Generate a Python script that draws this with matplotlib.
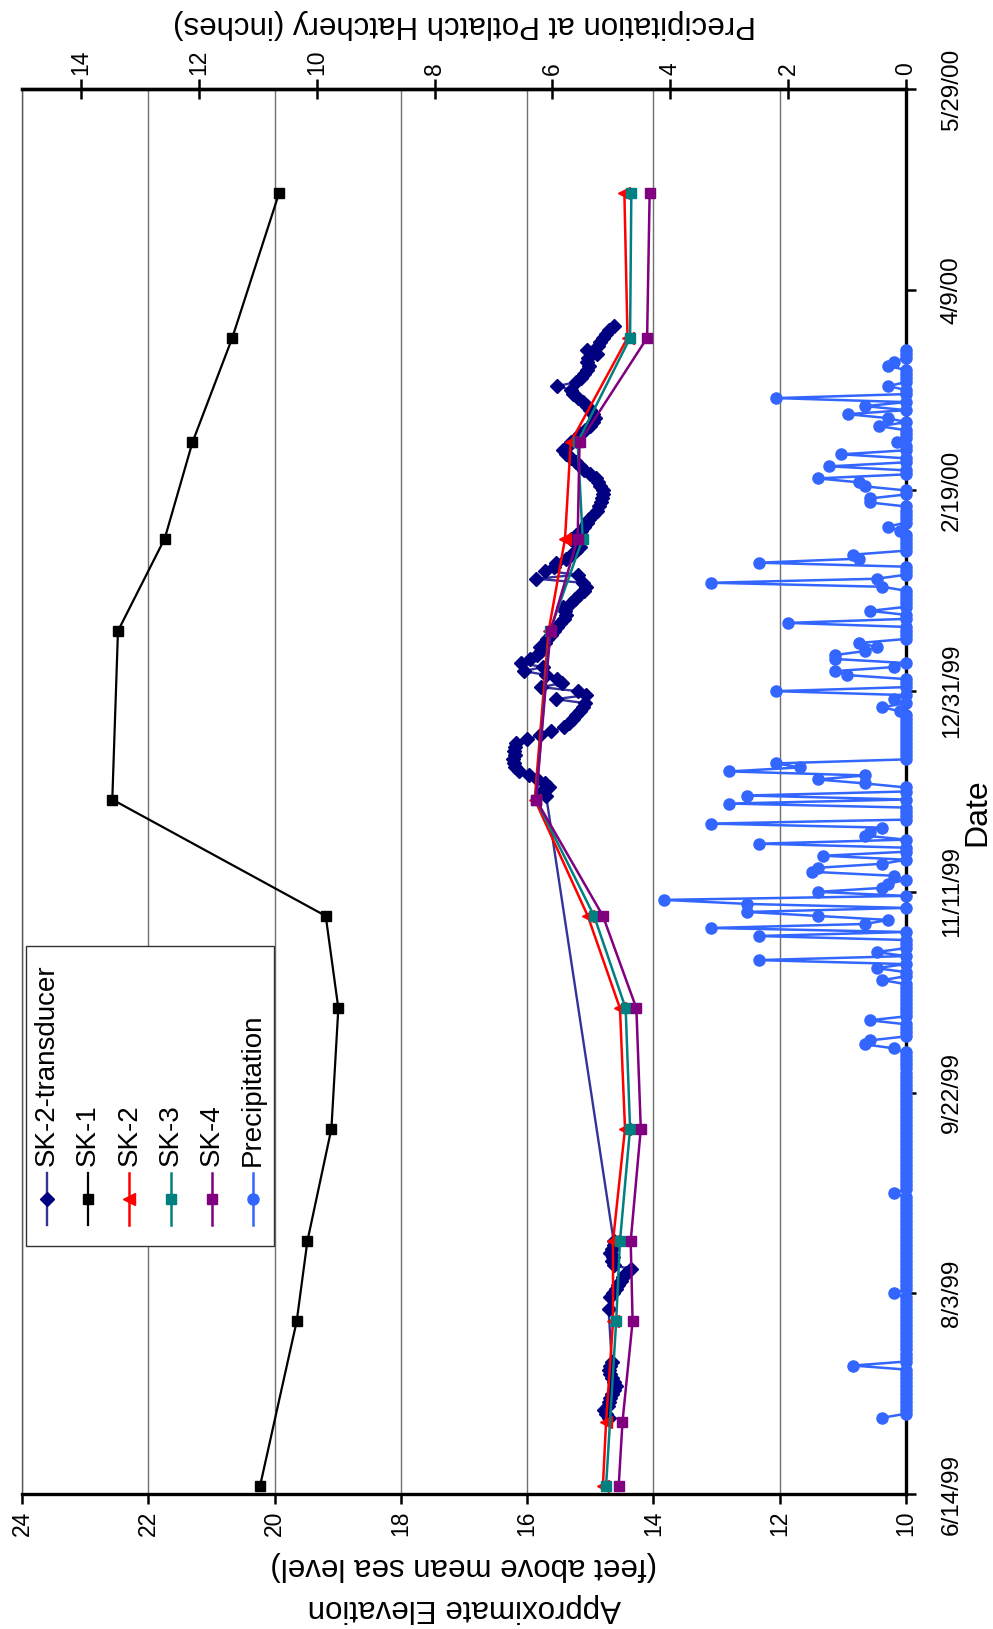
import numpy as np
import pandas as pd
import matplotlib
matplotlib.use('Agg')
import matplotlib.pyplot as plt
from matplotlib.lines import Line2D
from matplotlib.patches import Rectangle

plt.rcParams['font.family'] = ['Liberation Sans', 'DejaVu Sans']
narrow = ['Liberation Sans Narrow', 'Liberation Sans', 'DejaVu Sans']

# ---- well soundings -------------------------------------------------------
well_dates = ['1999-06-16', '1999-07-27', '1999-08-16', '1999-09-13', '1999-10-13',
              '1999-11-05', '1999-12-04', '2000-01-15', '2000-02-07', '2000-03-02',
              '2000-03-28', '2000-05-03']
# SK-2 and SK-4 also have a reading on 7/2/99
well_dates_jul = ['1999-06-16', '1999-07-02', '1999-07-27', '1999-08-16', '1999-09-13',
                  '1999-10-13', '1999-11-05', '1999-12-04', '2000-01-15', '2000-02-07',
                  '2000-03-02', '2000-03-28', '2000-05-03']

sk1 = [20.23, 19.65, 19.48, 19.10, 18.99, 19.19, 22.57, 22.48, 21.74, 21.30, 20.67, 19.93]
sk2 = [14.80, 14.75, 14.64, 14.64, 14.45, 14.53, 15.04, 15.88, 15.66, 15.40, 15.31, 14.41, 14.46]
sk3 = [14.75, 14.59, 14.53, 14.37, 14.44, 14.94, 15.86, 15.64, 15.12, 15.20, 14.37, 14.35]
sk4 = [14.55, 14.49, 14.33, 14.36, 14.20, 14.27, 14.80, 15.86, 15.63, 15.20, 15.17, 14.10, 14.06]

# ---- SK-2 pressure transducer, daily readings in separate logging runs -------
trans_run1_start = '1999-07-03'
trans_run1 = [14.70, 14.75, 14.78, 14.72, 14.70, 14.68, 14.65, 14.62, 14.60, 14.62,
              14.66, 14.68, 14.70, 14.68, 14.66]
trans_run2_dates = ['1999-07-30']
trans_run2 = [14.71]
trans_run3_start = '1999-08-02'
trans_run3 = [14.68, 14.64, 14.60, 14.56, 14.52, 14.48, 14.44, 14.36, 14.62, 14.66,
              14.64, 14.68, 14.65, 14.62, 14.63]
trans_run4_start = '1999-12-05'
trans_run4 = [15.70, 15.78, 15.65, 15.72, 15.85, 15.97, 16.13, 16.20, 16.21, 16.22,
              16.20, 16.21, 16.19, 16.18, 16.00, 15.80, 15.62, 15.41, 15.33, 15.28,
              15.22, 15.16, 15.12, 15.08, 15.55, 15.07, 15.20, 15.78, 15.45, 15.52,
              15.70, 16.05, 15.75, 16.10, 15.95, 15.85, 15.78, 15.80, 15.72, 15.68,
              15.62, 15.58, 15.52, 15.48, 15.42, 15.38, 15.40, 15.44, 15.30, 15.25,
              15.18, 15.10, 15.07, 15.12, 15.86, 15.20, 15.72, 15.58, 15.54, 15.38,
              15.30, 15.22, 15.17, 15.25, 15.30, 15.23, 15.15, 15.10, 15.05, 15.02,
              14.96, 14.90, 14.86, 14.83, 14.81, 14.80, 14.80, 14.84, 14.88, 14.91,
              15.00, 15.10, 15.17, 15.22, 15.30, 15.38, 15.43, 15.36, 15.30, 15.22,
              15.17, 15.08, 15.00, 14.95, 14.92, 14.95, 15.00, 15.05, 15.12, 15.20,
              15.27, 15.30, 15.52, 15.22, 15.14, 15.10, 15.05, 15.02, 15.05, 15.04,
              14.90, 15.05, 14.88, 14.85, 14.80, 14.75, 14.70, 14.62]

# ---- daily precipitation at Potlatch Hatchery (inches); days not listed are 0 --
precip_start, precip_end = '1999-07-03', '2000-03-25'
rain_dates = ['1999-07-03', '1999-07-16', '1999-08-03', '1999-08-28', '1999-10-03',
              '1999-10-04', '1999-10-05', '1999-10-10', '1999-10-20', '1999-10-23',
              '1999-10-25', '1999-10-27', '1999-10-31', '1999-11-02', '1999-11-03',
              '1999-11-04', '1999-11-05', '1999-11-06', '1999-11-08', '1999-11-09',
              '1999-11-11', '1999-11-12', '1999-11-13', '1999-11-15', '1999-11-16',
              '1999-11-17', '1999-11-18', '1999-11-20', '1999-11-23', '1999-11-25',
              '1999-11-26', '1999-11-27', '1999-11-28', '1999-12-03', '1999-12-05',
              '1999-12-08', '1999-12-09', '1999-12-10', '1999-12-11', '1999-12-12',
              '1999-12-13', '1999-12-26', '1999-12-27', '1999-12-29', '1999-12-31',
              '2000-01-04', '2000-01-05', '2000-01-06', '2000-01-08', '2000-01-09',
              '2000-01-10', '2000-01-11', '2000-01-12', '2000-01-17', '2000-01-20',
              '2000-01-26', '2000-01-27', '2000-01-28', '2000-02-01', '2000-02-02',
              '2000-02-03', '2000-02-09', '2000-02-10', '2000-02-16', '2000-02-17',
              '2000-02-20', '2000-02-21', '2000-02-22', '2000-02-25', '2000-02-28',
              '2000-03-02', '2000-03-06', '2000-03-08', '2000-03-09', '2000-03-11',
              '2000-03-13', '2000-03-16', '2000-03-21', '2000-03-22']
rain_inches = [0.40, 0.90, 0.20, 0.20, 0.20, 0.69, 0.61, 0.61, 0.40, 0.50,
               2.50, 0.50, 2.50, 3.31, 0.69, 0.30, 1.50, 2.70, 2.70, 4.10,
               1.50, 0.40, 0.30, 0.20, 1.60, 1.49, 0.40, 1.40, 2.50, 0.69,
               0.61, 0.40, 3.31, 3.00, 2.70, 0.69, 1.50, 0.69, 3.00, 1.80,
               2.20, 0.11, 0.40, 0.20, 2.20, 1.00, 1.20, 0.20, 1.20, 1.20,
               0.69, 0.50, 0.79, 2.00, 0.61, 0.40, 3.31, 0.50, 2.50, 0.79,
               0.90, 0.11, 0.30, 0.61, 0.61, 0.69, 0.79, 1.50, 1.30, 1.10,
               0.15, 0.45, 0.30, 0.99, 0.69, 2.20, 0.30, 0.30, 0.20]

date_ticks = ['6/14/99', '8/3/99', '9/22/99', '11/11/99', '12/31/99', '2/19/00', '4/9/00', '5/29/00']
elev_ticks = [10, 12, 14, 16, 18, 20, 22, 24]
precip_ticks = [0, 2, 4, 6, 8, 10, 12, 14]

# ---- assemble series ------------------------------------------------------
wd = pd.to_datetime(well_dates)
wdj = pd.to_datetime(well_dates_jul)

trans = pd.concat([
    pd.Series(trans_run1, index=pd.date_range(trans_run1_start, periods=len(trans_run1))),
    pd.Series(trans_run2, index=pd.to_datetime(trans_run2_dates)),
    pd.Series(trans_run3, index=pd.date_range(trans_run3_start, periods=len(trans_run3))),
    pd.Series(trans_run4, index=pd.date_range(trans_run4_start, periods=len(trans_run4))),
])

precip = pd.Series(0.0, index=pd.date_range(precip_start, precip_end))
precip[pd.to_datetime(rain_dates)] = rain_inches

# ---- figure: the chart is laid out sideways (dates run up the page) ----------
W, H = 993, 1629
L, R, T, B = 22, 906, 89, 1494
fig = plt.figure(figsize=(W / 100, H / 100), dpi=100)
ax = fig.add_axes([L / W, 1 - B / H, (R - L) / W, (B - T) / H])

ax.plot(trans.values, trans.index, color='#333399', lw=1.7, marker='D', ms=7.5,
        mfc='#000080', mec='#000080', label='SK-2-transducer', zorder=3)
ax.plot(sk1, wd, color='black', lw=1.6, marker='s', ms=7.5, label='SK-1', zorder=4)
ax.plot(sk2, wdj, color='red', lw=1.8, marker='<', ms=9, label='SK-2', zorder=4)
ax.plot(sk3, wd, color='#008080', lw=1.8, marker='s', ms=7.5, label='SK-3', zorder=4)
ax.plot(sk4, wdj, color='#800080', lw=1.8, marker='s', ms=7.5, label='SK-4', zorder=4)

ax.set_xlim(24, 10)
ax.set_ylim(pd.Timestamp('1999-06-14'), pd.Timestamp('2000-05-29'))
ax.set_xticks(elev_ticks)
ax.set_xticklabels([str(v) for v in elev_ticks], rotation=90, fontsize=16.5)
ax.yaxis.tick_right()
ax.set_yticks(pd.to_datetime(date_ticks, format='%m/%d/%y'))
ax.set_yticklabels(date_ticks, rotation=90, va='center', ha='left', fontsize=17.5, family=narrow)
ax.tick_params(axis='x', direction='out', length=7, width=1.8, pad=5)
ax.tick_params(axis='y', direction='out', length=7, width=1.8, pad=18)
ax.xaxis.grid(True, color='#707070', lw=1.0)
ax.set_axisbelow(True)
for side, lw, col in [('bottom', 2.4, 'black'), ('right', 2.4, 'black'),
                      ('left', 1.0, '#555555'), ('top', 2.4, 'black')]:
    ax.spines[side].set_linewidth(lw)
    ax.spines[side].set_color(col)

# precipitation on its own scale along the top
ax2 = ax.twiny()
ax2.plot(precip.values, precip.index, color='#3366FF', lw=1.8, marker='o', ms=8,
         mfc='#3366FF', mec='#3366FF', label='Precipitation', clip_on=False, zorder=3)
ax2.set_xlim(15, 0)
ax2.set_xticks(precip_ticks)
ax2.set_xticklabels([str(v) for v in precip_ticks], rotation=90, fontsize=16.5)
ax2.tick_params(axis='x', direction='inout', length=14, width=1.8, pad=3)
ax2.spines['top'].set_linewidth(2.4)
for side in ['bottom', 'left', 'right']:
    ax2.spines[side].set_visible(False)

# axis titles
def fx(px):
    return px / W

def fy(py):
    return 1 - py / H

fig.text(fx(464), fy(24), 'Precipitation at Potlatch Hatchery (inches)', rotation=180,
         ha='center', va='center', fontsize=22.5)
fig.text(fx(464), fy(1566), '(feet above mean sea level)', rotation=180,
         ha='center', va='center', fontsize=22.5)
fig.text(fx(464), fy(1608), 'Approximate Elevation', rotation=180,
         ha='center', va='center', fontsize=22.5)
fig.text(fx(977), fy(812), 'Date', rotation=90, ha='center', va='center', fontsize=23)

# legend, drawn sideways to follow the chart
fig.add_artist(Rectangle((fx(26), fy(1246)), (274 - 26) / W, (1246 - 946) / H,
                         transform=fig.transFigure, facecolor='white',
                         edgecolor='#333333', lw=1.0, zorder=5))
handles = [ax.get_lines()[i] for i in range(5)] + [ax2.get_lines()[0]]
for i, h in enumerate(handles):
    x = fx(46.7 + i * 41.3)
    fig.add_artist(Line2D([x, x, x], [fy(1173), fy(1199), fy(1225)],
                          transform=fig.transFigure, color=h.get_color(), lw=h.get_linewidth(),
                          marker=h.get_marker(), ms=h.get_markersize(), markevery=[1],
                          mfc=h.get_markerfacecolor(), mec=h.get_markeredgecolor(), zorder=6))
    fig.text(x, fy(1166), h.get_label(), rotation=90, rotation_mode='anchor',
             ha='left', va='center', fontsize=20, zorder=6)

fig.savefig('out.png', dpi=100)
